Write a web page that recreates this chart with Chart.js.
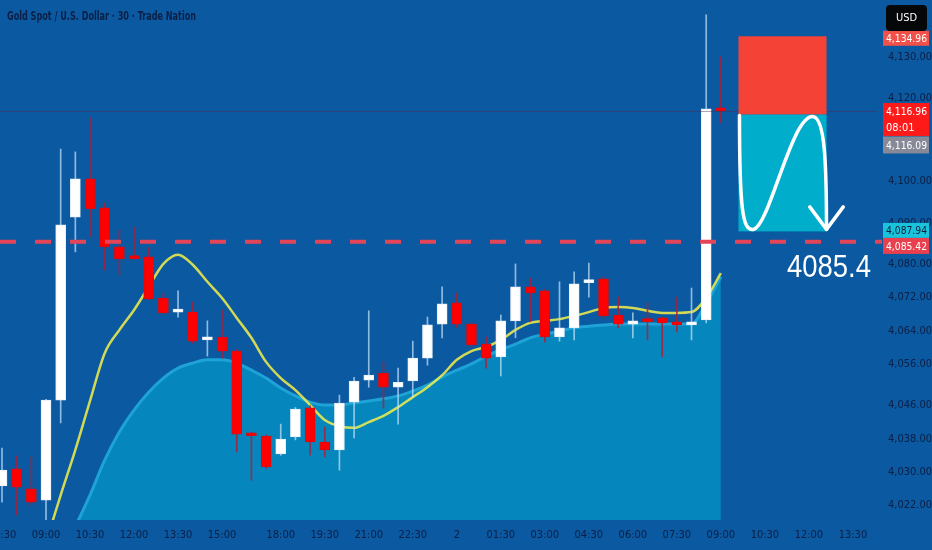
<!DOCTYPE html>
<html>
<head>
<meta charset="utf-8">
<script src="https://cdn.jsdelivr.net/npm/chart.js@4.4.1/dist/chart.umd.min.js"></script>
<style>
html, body { margin: 0; padding: 0; background: #0b59a1; }
#wrap { width: 932px; height: 550px; }
</style>
</head>
<body>
<div id="wrap"><canvas id="chart" width="932" height="550"></canvas></div>
<script>
// 30 min bars, XAU/USD
const times = ['07:30','08:00','08:30','09:00','09:30','10:00','10:30','11:00','11:30','12:00',
    '12:30','13:00','13:30','14:00','14:30','15:00','15:30','16:00','16:30','18:00',
    '18:30','19:00','19:30','20:00','20:30','21:00','21:30','22:00','22:30','23:00',
    '23:30','00:00','00:30','01:00','01:30','02:00','02:30','03:00','03:30','04:00',
    '04:30','05:00','05:30','06:00','06:30','07:00','07:30','08:00','08:30','09:00']

const opens = [4026.6, 4030.7, 4025.9, 4023.2, 4047.3, 4091.4, 4100.6, 4093.6, 4084.2, 4081.8,
    4081.8, 4071.9, 4068.5, 4068.5, 4061.8, 4062.5, 4059.1, 4039.1, 4038.6, 4034.3,
    4038.4, 4045.4, 4037.2, 4035.3, 4046.8, 4052.1, 4053.8, 4050.4, 4051.9, 4057.4,
    4065.6, 4070.7, 4065.6, 4060.8, 4057.7, 4066.4, 4074.6, 4073.6, 4062.5, 4064.7,
    4075.6, 4076.5, 4067.8, 4065.6, 4066.5, 4067.1, 4066.1, 4065.4, 4066.6, 4117.7]
const highs = [4035.7, 4033.8, 4033.6, 4047.5, 4107.8, 4107.1, 4115.3, 4094.8, 4088.3, 4089.0,
    4084.0, 4073.1, 4073.6, 4070.9, 4066.4, 4069.0, 4059.5, 4039.6, 4038.9, 4041.5,
    4045.5, 4046.0, 4040.8, 4048.5, 4052.8, 4068.8, 4056.5, 4055.0, 4061.5, 4067.3,
    4074.6, 4073.1, 4066.0, 4062.5, 4067.8, 4080.1, 4076.7, 4074.0, 4075.8, 4078.2,
    4080.3, 4077.0, 4072.1, 4068.3, 4070.7, 4067.3, 4072.1, 4074.3, 4140.1, 4130.0]
const lows = [4022.7, 4019.6, 4022.0, 4017.0, 4041.8, 4083.0, 4086.6, 4078.6, 4077.4, 4081.2,
    4071.5, 4068.0, 4067.3, 4061.0, 4057.9, 4057.4, 4034.8, 4028.0, 4030.8, 4034.0,
    4037.7, 4034.0, 4033.6, 4030.4, 4038.2, 4050.4, 4045.4, 4041.5, 4048.0, 4055.7,
    4062.3, 4064.7, 4060.0, 4055.0, 4053.1, 4062.3, 4066.1, 4061.3, 4061.5, 4061.8,
    4072.1, 4067.0, 4064.7, 4062.3, 4061.8, 4057.7, 4063.7, 4061.8, 4065.9, 4114.1]
const closes = [4030.4, 4026.3, 4022.7, 4047.3, 4089.5, 4100.6, 4093.4, 4084.2, 4081.3, 4081.4,
    4071.7, 4068.3, 4068.6, 4061.5, 4062.3, 4059.1, 4039.1, 4038.7, 4031.2, 4037.9,
    4045.1, 4037.2, 4035.3, 4046.6, 4051.9, 4053.3, 4050.4, 4051.6, 4057.4, 4065.4,
    4070.5, 4065.6, 4060.6, 4057.4, 4066.4, 4074.6, 4073.1, 4062.5, 4064.7, 4075.3,
    4076.3, 4067.6, 4065.6, 4066.4, 4066.2, 4065.9, 4065.4, 4065.9, 4117.5, 4116.96]

// fast moving average (yellow) and slow one (filled area)
const fastMA = [3982, 3992, 4002, 4013, 4024.4, 4035.3, 4047.1, 4058.6, 4064.2, 4069.0,
    4074.6, 4080.1, 4082.3, 4079.9, 4075.8, 4071.9, 4067.1, 4062.3, 4056.5, 4052.6,
    4049.7, 4046.1, 4042.5, 4041.0, 4040.6, 4042.0, 4043.5, 4045.6, 4048.0, 4050.4,
    4053.3, 4057.0, 4059.1, 4060.1, 4061.8, 4064.2, 4065.9, 4066.4, 4066.8, 4067.6,
    4068.5, 4069.5, 4069.7, 4069.5, 4068.8, 4068.3, 4068.3, 4068.5, 4071.9, 4077.9]
const slowMA = [3985, 3992, 3999, 4006, 4012, 4017.0, 4024.4, 4032.8, 4039.6, 4044.9,
    4049.2, 4052.6, 4055.0, 4056.2, 4057.0, 4057.0, 4056.2, 4054.5, 4052.6, 4050.2,
    4048.3, 4046.8, 4046.1, 4046.1, 4046.6, 4047.1, 4047.6, 4048.3, 4049.5, 4050.9,
    4052.9, 4054.5, 4056.0, 4057.9, 4059.4, 4060.8, 4062.3, 4063.2, 4063.9, 4064.7,
    4065.1, 4065.4, 4065.6, 4065.6, 4065.6, 4065.6, 4065.6, 4065.6, 4070.7, 4077.0]

const xTickIdx = [0, 3, 6, 9, 12, 15, 19, 22, 25, 28, 31, 34, 37, 40, 43, 46, 49, 52, 55, 58]
const xTickLabels = ['07:30','09:00','10:30','12:00','13:30','15:00','18:00','19:30','21:00','22:30',
    '2','01:30','03:00','04:30','06:00','07:30','09:00','10:30','12:00','13:30']
const yTicks = [4022, 4030, 4038, 4046, 4056, 4064, 4072, 4080, 4090, 4100, 4120, 4130]

// short setup: stop, entry, target, and the bars it spans
const tradeLevels = [4134.96, 4116.09, 4087.94]
const tradeSpan = [50.2, 56.2]
const lastPrice = 4116.96
const linePrice = 4085.42
const countdown = '08:01'

const axisFont = "'Liberation Sans Narrow', 'DejaVu Sans Condensed', 'Liberation Sans', sans-serif"
const txtColor = '#0c1f44'

const isUp = closes.map((c, i) => c >= opens[i])

const fmt = v => v.toLocaleString('en-US', {minimumFractionDigits: 2, maximumFractionDigits: 2})

function fitText(ctx, text, x, y, w) {
    const m = ctx.measureText(text).width
    ctx.save()
    ctx.translate(x, y)
    ctx.scale(Math.min(1, w / m), 1)
    ctx.fillText(text, 0, 0)
    ctx.restore()
}

function tag(ctx, yMid, h, text, bg, fg) {
    ctx.fillStyle = bg
    ctx.fillRect(883, yMid - h / 2, 46, h)
    ctx.fillStyle = fg
    ctx.font = '11px ' + axisFont
    ctx.textAlign = 'left'
    ctx.textBaseline = 'middle'
    fitText(ctx, text, 886, yMid + 1, 41)
}

const overlay = {
    id: 'overlay',
    beforeDraw(chart) {
        const ctx = chart.ctx
        ctx.save()
        ctx.fillStyle = '#0b59a1'
        ctx.fillRect(0, 0, chart.width, chart.height)
        ctx.restore()
    },
    afterDatasetsDraw(chart) {
        const ctx = chart.ctx
        const xs = chart.scales.x, ys = chart.scales.y
        const area = chart.chartArea
        ctx.save()

        // last price line
        const yl = ys.getPixelForValue(lastPrice)
        ctx.strokeStyle = 'rgba(90,40,80,0.45)'
        ctx.lineWidth = 1
        ctx.beginPath()
        ctx.moveTo(area.left, yl + 0.5)
        ctx.lineTo(area.right, yl + 0.5)
        ctx.stroke()

        // boxes
        const L = xs.getPixelForValue(tradeSpan[0]), R = xs.getPixelForValue(tradeSpan[1])
        const T = ys.getPixelForValue(tradeLevels[0])
        const M = ys.getPixelForValue(tradeLevels[1])
        const B = ys.getPixelForValue(tradeLevels[2])
        ctx.fillStyle = '#f44336'
        ctx.fillRect(L, T, R - L, M - T)
        ctx.fillStyle = '#00aecb'
        ctx.fillRect(L, M, R - L, B - M)

        // dashed level
        const yd = ys.getPixelForValue(linePrice)
        ctx.strokeStyle = '#e34457'
        ctx.lineWidth = 4
        ctx.setLineDash([16, 19])
        ctx.beginPath()
        ctx.moveTo(area.left, yd)
        ctx.lineTo(area.right + 4, yd)
        ctx.stroke()
        ctx.setLineDash([])

        // hand drawn arrow
        const W = R - L, H = B - M
        ctx.strokeStyle = '#ffffff'
        ctx.lineWidth = 3.5
        ctx.lineCap = 'round'
        ctx.lineJoin = 'round'
        ctx.beginPath()
        ctx.moveTo(L + 1, M + 1)
        ctx.bezierCurveTo(L + 1, B - 20, L + 0.05 * W, B, L + 0.17 * W, B - 2)
        ctx.bezierCurveTo(L + 0.35 * W, B - 5, L + 0.6 * W, M + 2, L + 0.84 * W, M + 2)
        ctx.bezierCurveTo(L + 0.98 * W, M + 2, R, M + 0.4 * H, R, B - 2)
        ctx.stroke()
        ctx.beginPath()
        ctx.moveTo(R - 0.19 * W, B - 0.21 * H)
        ctx.lineTo(R, B - 2)
        ctx.lineTo(R + 0.19 * W, B - 0.21 * H)
        ctx.stroke()

        // level text
        ctx.fillStyle = '#ffffff'
        ctx.font = '32px "Liberation Sans", sans-serif'
        ctx.textAlign = 'left'
        ctx.textBaseline = 'alphabetic'
        fitText(ctx, linePrice.toFixed(1), 787, 277, 84)
        ctx.restore()
    },
    afterDraw(chart) {
        const ctx = chart.ctx
        const ys = chart.scales.y
        ctx.save()

        tag(ctx, ys.getPixelForValue(tradeLevels[0]) + 2, 15, fmt(tradeLevels[0]), '#f2514a', '#ffffff')

        const yl = ys.getPixelForValue(lastPrice)
        ctx.fillStyle = '#ff1a1a'
        ctx.fillRect(883, yl - 8, 46, 33)
        ctx.fillStyle = '#ffffff'
        ctx.font = '11px ' + axisFont
        ctx.textBaseline = 'middle'
        fitText(ctx, fmt(lastPrice), 886, yl + 1, 41)
        fitText(ctx, countdown, 886, yl + 17, 41)
        tag(ctx, yl + 34, 17, fmt(tradeLevels[1]), '#878a96', '#ffffff')

        const yt = ys.getPixelForValue(tradeLevels[2])
        tag(ctx, yt - 1, 15, fmt(tradeLevels[2]), '#19c3dc', '#10203a')
        tag(ctx, yt + 14.5, 16, fmt(linePrice), '#e8404f', '#ffffff')

        // currency badge
        ctx.fillStyle = '#060708'
        ctx.beginPath()
        ctx.roundRect(886, 5, 41, 26, 4)
        ctx.fill()
        ctx.fillStyle = '#ffffff'
        ctx.font = '11px ' + axisFont
        ctx.textAlign = 'center'
        ctx.textBaseline = 'middle'
        ctx.fillText('USD', 906.5, 18.5)

        // symbol title
        ctx.fillStyle = txtColor
        ctx.font = 'bold 12px ' + axisFont
        ctx.textAlign = 'left'
        fitText(ctx, 'Gold Spot / U.S. Dollar · 30 · Trade Nation', 7, 17, 189)
        ctx.restore()
    }
}

const ctx = document.getElementById('chart')
const chart = new Chart(ctx, {
    type: 'bar',
    data: {
        datasets: [
            {
                type: 'bar',
                label: 'Body',
                data: times.map((t, i) => ({x: i, y: [opens[i], closes[i]]})),
                backgroundColor: isUp.map(u => u ? '#ffffff' : '#ff0000'),
                borderColor: isUp.map(u => u ? '#e6eef8' : '#d40d12'),
                borderWidth: 1,
                borderSkipped: false,
                barThickness: 10,
                minBarLength: 3,
                grouped: false,
                order: 1
            },
            {
                type: 'bar',
                label: 'Wick',
                data: times.map((t, i) => ({x: i, y: [lows[i], highs[i]]})),
                backgroundColor: isUp.map(u => u ? 'rgba(190,220,245,0.75)' : 'rgba(170,30,55,0.85)'),
                borderWidth: 0,
                barThickness: 1,
                grouped: false,
                order: 2
            },
            {
                type: 'line',
                label: 'Fast MA',
                data: times.map((t, i) => ({x: i, y: fastMA[i]})),
                borderColor: 'rgba(246,240,70,0.85)',
                borderWidth: 2.5,
                pointRadius: 0,
                cubicInterpolationMode: 'monotone',
                fill: false,
                order: 3
            },
            {
                type: 'line',
                label: 'Slow MA',
                data: times.map((t, i) => ({x: i, y: slowMA[i]})),
                borderColor: '#1ea3d6',
                borderWidth: 3,
                backgroundColor: '#0587bd',
                pointRadius: 0,
                cubicInterpolationMode: 'monotone',
                fill: 'start',
                order: 4
            }
        ]
    },
    options: {
        responsive: false,
        animation: false,
        devicePixelRatio: 1,
        layout: { padding: 0 },
        plugins: {
            legend: { display: false },
            tooltip: { enabled: false }
        },
        scales: {
            x: {
                type: 'linear',
                offset: false,
                min: -0.136,
                max: 59.71,
                grid: { display: false, drawTicks: false, offset: false },
                border: { display: false },
                afterBuildTicks: s => { s.ticks = xTickIdx.map(v => ({value: v})) },
                afterFit: s => { s.height = 30; s.paddingLeft = 0; s.paddingRight = 0 },
                ticks: {
                    autoSkip: false,
                    maxRotation: 0,
                    padding: 9,
                    color: txtColor,
                    font: { family: axisFont, size: 11 },
                    callback: v => xTickLabels[xTickIdx.indexOf(v)]
                }
            },
            y: {
                type: 'linear',
                position: 'right',
                min: 4018.4,
                max: 4143.7,
                grid: { display: false, drawTicks: false },
                border: { display: false },
                afterBuildTicks: s => { s.ticks = yTicks.map(v => ({value: v})) },
                afterFit: s => { s.width = 54; s.paddingTop = 0; s.paddingBottom = 0 },
                ticks: {
                    padding: 10,
                    color: txtColor,
                    font: { family: axisFont, size: 11 },
                    callback: v => fmt(v)
                }
            }
        }
    },
    plugins: [overlay]
})
</script>
</body>
</html>
